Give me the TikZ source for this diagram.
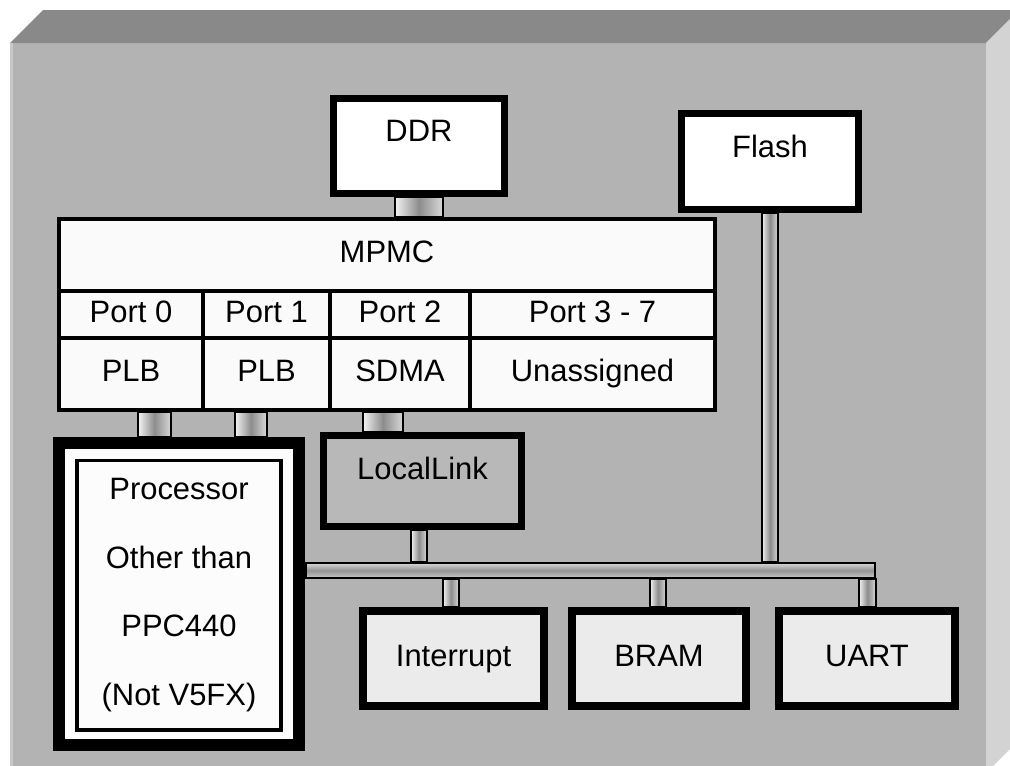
\documentclass[tikz,border=0pt]{standalone}
\usepackage{fontspec}
\setmainfont{Liberation Sans}
\usetikzlibrary{calc}
\definecolor{frontgray}{HTML}{B3B3B3}
\definecolor{topgray}{HTML}{898989}
\definecolor{sidegray}{HTML}{D3D3D3}
\definecolor{edgegray}{HTML}{C8C8C8}
\definecolor{cellfill}{HTML}{FAFAFA}
\definecolor{lowfill}{HTML}{EBEBEB}
\definecolor{linkfill}{HTML}{B8B8B8}
\newcommand{\pxu}{0.025cm}
\tikzset{
  box/.style={draw=black, fill=white, line width=5pt, inner sep=0pt},
  cell/.style={draw=black, fill=cellfill, line width=2.85pt, inner sep=0pt, text height=15.75pt, text depth=4.6pt},
  procbox/.style={draw=black, fill=white!99!black, line width=8.5pt, inner sep=0pt},
  procinner/.style={draw=black, line width=2.5pt, inner sep=0pt, align=center},
  linkbox/.style={draw=black, fill=linkfill, line width=5pt, inner sep=0pt},
  lowbox/.style={draw=black, fill=lowfill, line width=5.7pt, inner sep=0pt, text height=15.75pt, text depth=4.6pt},
  vtube/.style={draw=black, line width=1.1pt, left color=white!95!black, right color=white!85!black, middle color=black!45},
  htube/.style={draw=black, line width=1.1pt, inner sep=0pt, top color=white!85!black, bottom color=white!80!black, middle color=black!42}
}
\begin{document}
\begin{tikzpicture}[x=0.025cm, y=-0.025cm, font=\fontsize{22}{26}\selectfont]
\useasboundingbox (0,0) rectangle (1010,765);
\clip (0,0) rectangle (1010,765);
% cabinet
\fill[frontgray] (10,43) rectangle (986,773);
\fill[topgray] (10,43) -- (43,10) -- (1019,10) -- (986,43) -- cycle;
\fill[sidegray] (986,43) -- (1019,10) -- (1019,740) -- (986,773) -- cycle;
\fill[edgegray] (10,43) rectangle (13,773);
% memories
\node[box, minimum width=171*\pxu, minimum height=95*\pxu] (ddr) at (419,146) {};
\node (ddrtext) at ($(ddr.north)+(0,36)$) {DDR};
\node[box, minimum width=177*\pxu, minimum height=96*\pxu] (flash) at (770,161.5) {};
\node (flashtext) at ($(flash.north)+(0,36)$) {Flash};
% MPMC
\node[cell, minimum width=656*\pxu, minimum height=71.5*\pxu] (mpmc) at (387,254.75) {MPMC};
\node[cell, minimum width=144*\pxu, minimum height=47.5*\pxu] (port0) at (131,314.25) {Port 0};
\node[cell, minimum width=127*\pxu, minimum height=47.5*\pxu] (port1) at (266.5,314.25) {Port 1};
\node[cell, minimum width=140*\pxu, minimum height=47.5*\pxu] (port2) at (400,314.25) {Port 2};
\node[cell, minimum width=245*\pxu, minimum height=47.5*\pxu] (port37) at (592.5,314.25) {Port 3 - 7};
\node[cell, minimum width=144*\pxu, minimum height=72*\pxu] (plb0) at (131,374) {PLB};
\node[cell, minimum width=127*\pxu, minimum height=72*\pxu] (plb1) at (266.5,374) {PLB};
\node[cell, minimum width=140*\pxu, minimum height=72*\pxu] (sdma) at (400,374) {SDMA};
\node[cell, minimum width=245*\pxu, minimum height=72*\pxu] (unassigned) at (592.5,374) {Unassigned};
% processor
\node[procbox, minimum width=240*\pxu, minimum height=302*\pxu] (proc) at (179,594) {};
\node[procinner, minimum width=204.5*\pxu, minimum height=269.5*\pxu, font=\fontsize{22}{49}\selectfont] (proctext) at (179,595) {Processor\\Other than\\PPC440\\(Not V5FX)};
% local link and peripherals
\node[linkbox, minimum width=198*\pxu, minimum height=91*\pxu] (llink) at (422.5,481) {};
\node (llinktext) at ($(llink.north)+(0,36)$) {LocalLink};
\node[lowbox, minimum width=181*\pxu, minimum height=95*\pxu] (intr) at (453.5,658.5) {Interrupt};
\node[lowbox, minimum width=174*\pxu, minimum height=95*\pxu] (bram) at (659,658.5) {BRAM};
\node[lowbox, minimum width=176*\pxu, minimum height=95*\pxu] (uart) at (867,658.5) {UART};
% bus
\node[htube, minimum width=569*\pxu, minimum height=15.5*\pxu] (bus) at (590.5,570.5) {};
% tubes
\draw[vtube] (395,0 |- ddr.south) rectangle (443,0 |- mpmc.north);
\draw[vtube] (762,0 |- flash.south) rectangle (778,0 |- bus.north);
\draw[vtube] (138,0 |- plb0.south) rectangle (171,0 |- proc.north);
\draw[vtube] (235,0 |- plb1.south) rectangle (267,0 |- proc.north);
\draw[vtube] (363,0 |- sdma.south) rectangle (403,0 |- llink.north);
\draw[vtube] (411,0 |- llink.south) rectangle (427,0 |- bus.north);
\draw[vtube] (443,0 |- bus.south) rectangle (459,0 |- intr.north);
\draw[vtube] (650,0 |- bus.south) rectangle (666,0 |- bram.north);
\draw[vtube] (859,0 |- bus.south) rectangle (876,0 |- uart.north);
\end{tikzpicture}
\end{document}
